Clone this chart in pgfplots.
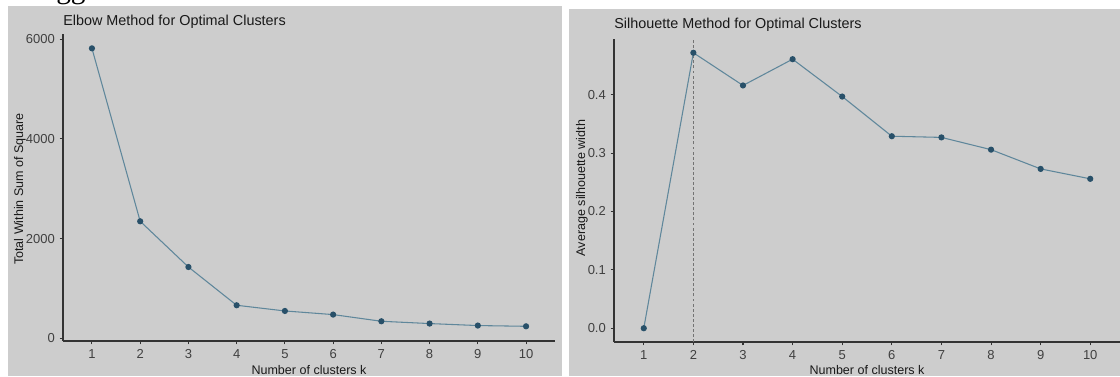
\documentclass[border=0pt]{standalone}
\usepackage{pgfplots}
\pgfplotsset{compat=1.18}
\usepackage{fontspec}
\setmainfont{Liberation Sans}
\newfontfamily\seriffont{Liberation Serif}
\definecolor{bg}{RGB}{205,205,205}
\definecolor{ln}{RGB}{95,135,155}
\definecolor{pt}{RGB}{40,80,105}
\definecolor{tx}{RGB}{25,25,25}

\pgfplotsset{
 ggstyle/.style={
  scale only axis,
  anchor=south west,
  axis x line*=bottom, axis y line*=left,
  axis line style={-, draw=black!80, line width=0.9pt},
  tick align=outside,
  major tick length=2.6pt,
  tick style={black!80, line width=0.8pt},
  xmin=0.4, xmax=10.6,
  xtick={1,...,10},
  ticklabel style={font=\fontsize{9.75pt}{11pt}\selectfont, text=black!75},
  /pgf/number format/assume math mode=true,
  /pgf/number format/1000 sep={},
  clip=false,
 },
 ggline/.style={ln, line width=0.8pt, mark=*, mark size=1.9pt, mark options={draw=pt, fill=pt}},
}

\begin{document}
\begin{tikzpicture}[x=0.75pt,y=0.75pt]
\path[use as bounding box] (0,0) rectangle (1120,376);
\fill[bg] (8,0) rectangle (562,370);
\fill[bg] (569,0) rectangle (1120,367);
\node[anchor=base west, inner sep=0pt, font=\seriffont\fontsize{22pt}{22pt}\selectfont] at (56,378) {gg};

% ---------- Elbow ----------
\begin{axis}[ggstyle,
  at={(47.25pt,26.25pt)}, width=369pt, height=230.25pt,
  ymin=-55, ymax=6105,
  ytick={0,2000,4000,6000},
]
\addplot[ggline] coordinates {
 (1,5817) (2,2347) (3,1430) (4,662) (5,548) (6,475) (7,341) (8,295) (9,255) (10,240)
};
\end{axis}
\node[anchor=base west, inner sep=0pt, text=tx, font=\fontsize{10.8pt}{12pt}\selectfont] at (63,351) {Elbow Method for Optimal Clusters};
\node[anchor=base, inner sep=0pt, text=tx, font=\fontsize{9.4pt}{11pt}\selectfont] at (309,2) {Number of clusters k};
\node[anchor=center, rotate=90, inner sep=0pt, text=tx, font=\fontsize{9.4pt}{11pt}\selectfont] at (20,187) {Total Within Sum of Square};

% ---------- Silhouette ----------
\begin{axis}[ggstyle,
  at={(460.5pt,25.5pt)}, width=379.5pt, height=227.25pt,
  ymin=-0.0236, ymax=0.4956,
  ytick={0,0.1,0.2,0.3,0.4},
  yticklabel style={/pgf/number format/.cd, fixed, fixed zerofill, precision=1},
]
\addplot[black!55, dash pattern=on 2.2pt off 1.6pt, line width=0.7pt] coordinates {(2,-0.0236) (2,0.4956)};
\addplot[ggline] coordinates {
 (1,0.000) (2,0.472) (3,0.416) (4,0.461) (5,0.397) (6,0.329) (7,0.327) (8,0.306) (9,0.273) (10,0.256)
};
\end{axis}
\node[anchor=base west, inner sep=0pt, text=tx, font=\fontsize{10.8pt}{12pt}\selectfont] at (614,348) {Silhouette Method for Optimal Clusters};
\node[anchor=base, inner sep=0pt, text=tx, font=\fontsize{9.4pt}{11pt}\selectfont] at (867,2) {Number of clusters k};
\node[anchor=center, rotate=90, inner sep=0pt, text=tx, font=\fontsize{9.4pt}{11pt}\selectfont] at (582,188) {Average silhouette width};
\end{tikzpicture}
\end{document}
